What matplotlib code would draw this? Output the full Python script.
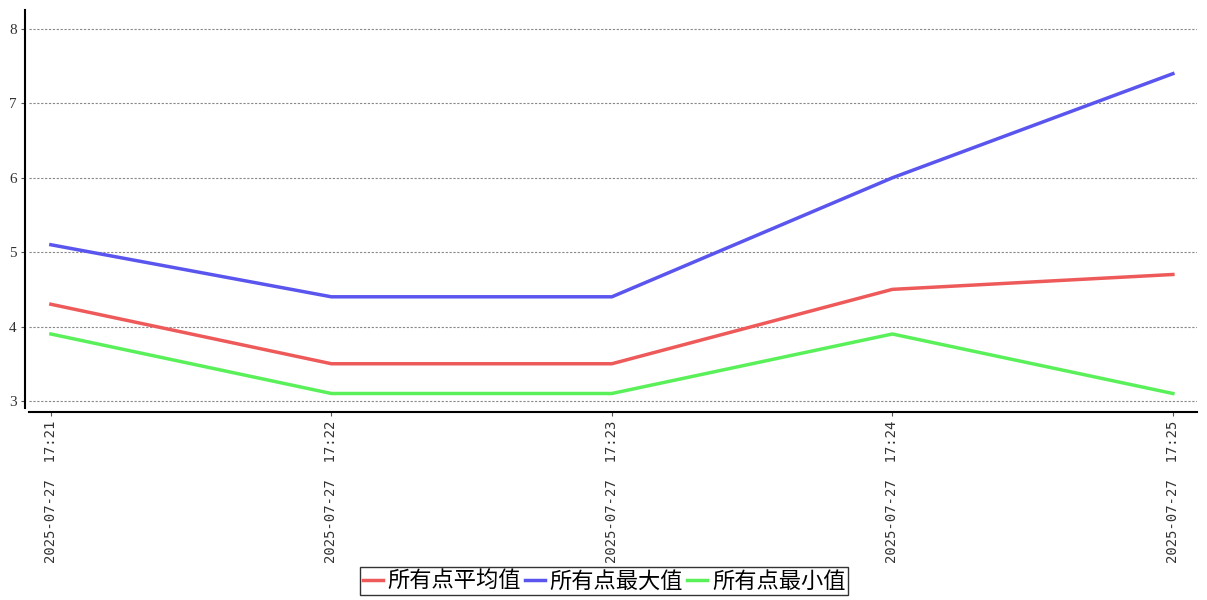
import matplotlib
matplotlib.use("Agg")
import matplotlib.pyplot as plt

# data
times = ["2025-07-27  17:21", "2025-07-27  17:22", "2025-07-27  17:23",
         "2025-07-27  17:24", "2025-07-27  17:25"]
avg_vals = [4.3, 3.5, 3.5, 4.5, 4.7]
max_vals = [5.1, 4.4, 4.4, 6.0, 7.4]
min_vals = [3.9, 3.1, 3.1, 3.9, 3.1]
series_names = ["所有点平均值", "所有点最大值", "所有点最小值"]
yticks = [3, 4, 5, 6, 7, 8]

fig = plt.figure(figsize=(12.07, 6.0), dpi=100)
ax = fig.add_axes([29 / 1207, 1 - 408 / 600, (1197 - 29) / 1207, (408 - 10) / 600])

# spines first: set_position resets tick label styling
for s in ["top", "right"]:
    ax.spines[s].set_visible(False)
ax.spines["left"].set_position(("outward", 3))
ax.spines["bottom"].set_position(("outward", 3))
ax.spines["left"].set_linewidth(1.5)
ax.spines["bottom"].set_linewidth(1.5)

x = list(range(len(times)))
colors = ["#ee5a5a", "#5a55ee", "#5af05a"]
for vals, name, c in zip([avg_vals, max_vals, min_vals], series_names, colors):
    ax.plot(x, vals, color=c, lw=2.5, label=name, zorder=3)

ax.set_xlim(-0.078, 4.086)
ax.set_ylim(2.905, 8.256)
ax.set_yticks(yticks)
ax.set_yticklabels([str(v) for v in yticks], family="Liberation Serif", fontsize=11,
                   color="#333333")
ax.set_xticks(x)
ax.set_xticklabels(times, rotation=90, family="DejaVu Sans Mono", fontsize=10,
                   color="#333333")
ax.tick_params(axis="both", length=3, width=0.8, color="#555555", pad=3)

ax.grid(axis="y", ls=(0, (2, 1.5)), color="#888888", lw=0.8)
ax.set_axisbelow(True)

leg = fig.legend(loc="center", bbox_to_anchor=(604 / 1207, 1 - 581 / 600), ncol=3,
                 prop={"family": ["Noto Sans CJK SC", "DejaVu Sans"], "size": 16},
                 frameon=True, fancybox=False, edgecolor="black",
                 handlelength=0.9, handletextpad=0.2, columnspacing=0.2,
                 borderpad=0.1, borderaxespad=0)
leg.get_frame().set_linewidth(1.0)

fig.savefig("out.png", dpi=100)
